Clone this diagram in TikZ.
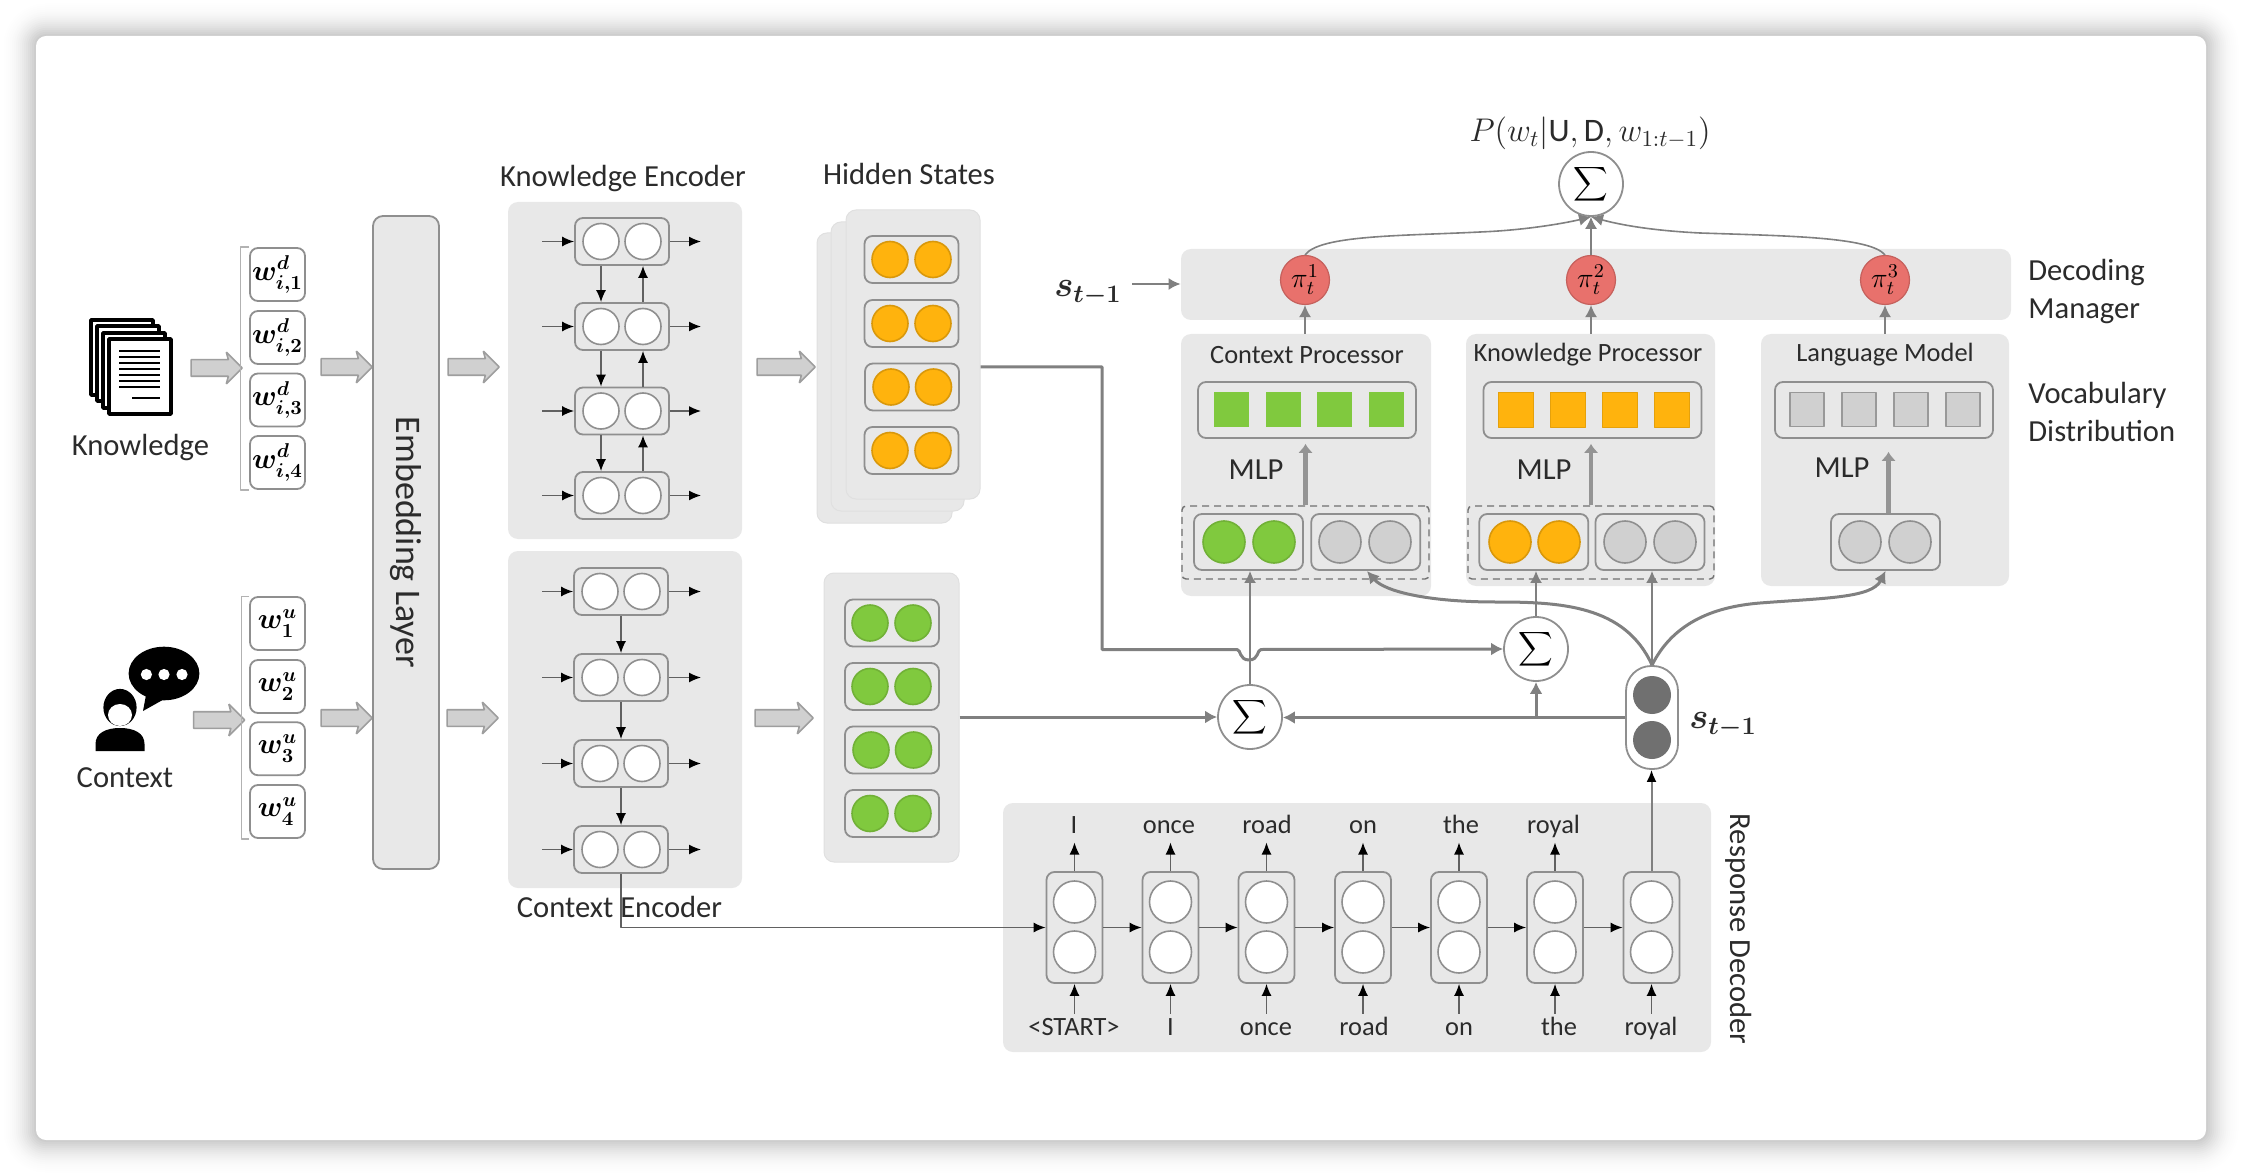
\documentclass[tikz,border=0pt]{standalone}
\usepackage{fix-cm}
\usepackage{amsmath}
\usepackage{fontspec}
\setmainfont{Carlito}
\usetikzlibrary{arrows.meta,shapes.arrows}
\definecolor{panelgray}{HTML}{E8E8E8}
\definecolor{edgegray}{HTML}{8F8F8F}
\definecolor{softgray}{HTML}{D0D0D0}
\definecolor{darkgray}{HTML}{707070}
\definecolor{inkgray}{HTML}{2B2B2B}
\definecolor{leafgreen}{HTML}{80C93E}
\definecolor{amber}{HTML}{FFB30D}
\definecolor{rosered}{HTML}{E8716C}
\tikzset{
  capt/.style={text=inkgray,inner sep=0pt,font=\fontsize{15.3}{18}\selectfont},
  smallcapt/.style={text=inkgray,inner sep=0pt,font=\fontsize{13.2}{16}\selectfont},
  wordnode/.style={text=inkgray,inner sep=0pt,outer sep=2pt,text height=9pt,text depth=2.5pt,font=\fontsize{13.2}{16}\selectfont},
  panel/.style={rectangle,rounded corners=5pt,fill=panelgray,inner sep=0pt},
  hiddenpanel/.style={panel,draw=black!12,line width=.5pt},
  pill/.style={rectangle,rounded corners=4pt,draw=edgegray,line width=.9pt,inner sep=0pt},
  wordbox/.style={pill,fill=white,minimum width=27.5pt,minimum height=26.5pt,font=\fontsize{14.4}{18}\selectfont},
  cellh/.style={pill,minimum width=47pt,minimum height=23.5pt},
  celldec/.style={pill,minimum width=28pt,minimum height=55.5pt},
  cellsm/.style={pill,minimum width=54.5pt,minimum height=28pt},
  cellvocab/.style={pill,minimum width=109pt,minimum height=28pt},
  unit/.style={circle,draw=edgegray,line width=.8pt,fill=white,minimum size=18pt,inner sep=0pt},
  unitdec/.style={unit,minimum size=21pt},
  hotamber/.style={unit,fill=amber,draw=amber!85!black},
  hotgreen/.style={unit,fill=leafgreen,draw=leafgreen!88!black},
  softamber/.style={hotamber,minimum size=21pt},
  softgreen/.style={hotgreen,minimum size=21pt},
  softunit/.style={unit,fill=softgray,minimum size=21pt},
  darkunit/.style={circle,fill=darkgray,minimum size=19pt,inner sep=0pt},
  barg/.style={rectangle,fill=leafgreen,minimum size=17.5pt,inner sep=0pt},
  baro/.style={rectangle,fill=amber,draw=amber!90!black,line width=.4pt,minimum size=17.5pt,inner sep=0pt},
  bars/.style={rectangle,fill=softgray,draw=black!40,line width=.7pt,minimum size=17pt,inner sep=0pt},
  dashbox/.style={rectangle,rounded corners=2pt,draw=darkgray,line width=.7pt,dash pattern=on 3.5pt off 2.5pt,minimum height=36.5pt,inner sep=0pt},
  sumnode/.style={circle,draw=edgegray,line width=.9pt,fill=white,minimum size=32pt,inner sep=0pt,font=\fontsize{13}{15}\selectfont},
  pinode/.style={circle,draw=rosered!85!black,line width=.6pt,fill=rosered,minimum size=24.5pt,inner sep=0pt,font=\fontsize{14}{16}\selectfont},
  blockarrow/.style={single arrow,draw=black!38,fill=softgray,line width=.8pt,minimum height=25.5pt,single arrow head extend=3.75pt,single arrow head indent=1pt,inner xsep=0pt,inner ysep=3.75pt},
  encline/.style={draw=black!62,line width=.7pt,>={Latex[black,length=6pt,width=5pt]}},
  gline/.style={draw=black!50,line width=1.5pt,>={Latex[length=6pt,width=6.5pt]}},
  gthin/.style={draw=black!50,line width=1pt,>={Latex[length=6pt,width=6pt]}},
  mlpline/.style={draw=black!42,line width=2.4pt,shorten >=2.5pt,>={Latex[length=4.5pt,width=7.5pt]}},
  brace/.style={draw=black!30,line width=.6pt},
  page/.style={draw=black,line width=2pt,fill=white},
}
\begin{document}
\begin{tikzpicture}[x=.5pt,y=-.5pt,line join=bevel]
%%
\useasboundingbox [fill=white] (0,0) rectangle (2242,1176);
\foreach \gap in {34,32,...,0} {
  \pgfmathsetmacro{\sdw}{22*(1-\gap/36)*(1-\gap/36)}
  \pgfmathsetmacro{\rad}{5+\gap/2}
  \fill [black!\sdw,rounded corners=\rad pt] (36-\gap,36-\gap) rectangle (2206+\gap,1140+\gap);
}
\fill [white,rounded corners=5pt] (36,36) rectangle (2206,1140);
%
% documents icon
\draw [page] (91,320) rectangle (152.5,395);
\draw [page] (97,326.5) rectangle (158.5,401.5);
\draw [page] (103,333) rectangle (165,408);
\draw [page] (109,339.5) rectangle (171,414);
\draw [black,line width=1pt] (119,351) -- (160,351) (119,357) -- (160,357) (119,363) -- (160,363) (119,369) -- (160,369) (119,375) -- (160,375) (119,381) -- (160,381) (119,387.5) -- (160,387.5) (132,398) -- (160,398);
% person icon
\fill [black] (164,673.5) ellipse [x radius=17.7pt,y radius=13.4pt];
\fill [black] (146,695) -- (143,711) -- (168,697) -- cycle;
\fill [white] (146.4,674.5) circle [radius=2.8pt] (164,674.5) circle [radius=2.8pt] (182,674.5) circle [radius=2.8pt];
\fill [black] (120,707.5) ellipse [x radius=8.3pt,y radius=9.3pt];
\fill [white] (120,715) ellipse [x radius=6pt,y radius=5.5pt];
\fill [black] (95.5,751) -- (95.5,744) .. controls (95.5,733) and (106,728) .. (120,728) .. controls (134,728) and (144.5,733) .. (144.5,744) -- (144.5,751) -- cycle;
%
\node (knowledge) at (140.5,448) [capt] {Knowledge};
\node (context) at (125,778) [capt] {Context};
\node (arrk1) at (212.5,368) [blockarrow] {};
\node (arrk2) at (342.5,367) [blockarrow] {};
\node (arrk3) at (469.5,367) [blockarrow] {};
\node (arrk4) at (782,367) [blockarrow,minimum height=29pt] {};
\node (arrc1) at (215,720) [blockarrow] {};
\node (arrc2) at (342.5,718) [blockarrow] {};
\node (arrc3) at (468.5,718) [blockarrow] {};
\node (arrc4) at (780,718) [blockarrow,minimum height=29pt] {};
%
\node (wd1) at (277.5,274.5) [wordbox] {$\boldsymbol{w_{i,1}^{d}}$};
\node (wd2) at (277.5,337.5) [wordbox] {$\boldsymbol{w_{i,2}^{d}}$};
\node (wd3) at (277.5,400) [wordbox] {$\boldsymbol{w_{i,3}^{d}}$};
\node (wd4) at (277.5,462.5) [wordbox] {$\boldsymbol{w_{i,4}^{d}}$};
\node (wu1) at (277.5,623.5) [wordbox] {$\boldsymbol{w_{1}^{u}}$};
\node (wu2) at (277.5,686.5) [wordbox] {$\boldsymbol{w_{2}^{u}}$};
\node (wu3) at (277.5,748.75) [wordbox] {$\boldsymbol{w_{3}^{u}}$};
\node (wu4) at (277.5,811.5) [wordbox] {$\boldsymbol{w_{4}^{u}}$};
\draw [brace] (wd1.north west) -- ++(-9,0) |- (wd4.south west);
\draw [brace] (wu1.north west) -- ++(-8,0) |- (wu4.south west);
%
\node (embed) at (406,542.5) [panel,draw=edgegray,line width=.9pt,rotate=-90,minimum width=326.5pt,minimum height=33pt,text=inkgray,font=\fontsize{18}{20}\selectfont] {Embedding Layer};
%
% knowledge encoder
\node (kpanel) at (625,370.5) [panel,minimum width=117pt,minimum height=168.5pt] {};
\node (ktitle) at (623,179) [capt] {Knowledge Encoder};
\node (kcell1) at (622,241.5) [cellh] {};
\node (kcell2) at (622,326.5) [cellh] {};
\node (kcell3) at (622,411) [cellh] {};
\node (kcell4) at (622,495.5) [cellh] {};
\node (kcell1a) at (601,241.5) [unit] {};
\node (kcell1b) at (643,241.5) [unit] {};
\node (kcell2a) at (601,326.5) [unit] {};
\node (kcell2b) at (643,326.5) [unit] {};
\node (kcell3a) at (601,411) [unit] {};
\node (kcell3b) at (643,411) [unit] {};
\node (kcell4a) at (601,495.5) [unit] {};
\node (kcell4b) at (643,495.5) [unit] {};
\coordinate (kleft) at (542,0);
\coordinate (kright) at (701,0);
% context encoder
\node (cpanel) at (625,719.5) [panel,minimum width=117pt,minimum height=168.5pt] {};
\node (ctitle) at (619.5,907) [capt] {Context Encoder};
\node (ccell1) at (621,591.5) [cellh] {};
\node (ccell2) at (621,677.5) [cellh] {};
\node (ccell3) at (621,763.5) [cellh] {};
\node (ccell4) at (621,849.5) [cellh] {};
\node (ccell1a) at (600,591.5) [unit] {};
\node (ccell1b) at (642,591.5) [unit] {};
\node (ccell2a) at (600,677.5) [unit] {};
\node (ccell2b) at (642,677.5) [unit] {};
\node (ccell3a) at (600,763.5) [unit] {};
\node (ccell3b) at (642,763.5) [unit] {};
\node (ccell4a) at (600,849.5) [unit] {};
\node (ccell4b) at (642,849.5) [unit] {};
%
% hidden states
\node (htitle) at (909,174) [capt] {Hidden States};
\node (hback) at (884.5,378) [hiddenpanel,minimum width=67.5pt,minimum height=145pt] {};
\node (hmid) at (897.5,366.5) [hiddenpanel,minimum width=66.5pt,minimum height=144.5pt] {};
\node (hfront) at (913,354.5) [hiddenpanel,minimum width=67pt,minimum height=144.5pt] {};
\node (hk1) at (911.5,259.5) [cellh] {};
\node (hk2) at (911.5,323.5) [cellh] {};
\node (hk3) at (912,387) [cellh] {};
\node (hk4) at (911.5,450.5) [cellh] {};
\node (hk1a) at (890,259.5) [hotamber] {};
\node (hk1b) at (933,259.5) [hotamber] {};
\node (hk2a) at (890,323.5) [hotamber] {};
\node (hk2b) at (933,323.5) [hotamber] {};
\node (hk3a) at (891,387) [hotamber] {};
\node (hk3b) at (933.5,387) [hotamber] {};
\node (hk4a) at (890,450.5) [hotamber] {};
\node (hk4b) at (933,450.5) [hotamber] {};
\node (hcpanel) at (891.5,717.5) [hiddenpanel,minimum width=67.5pt,minimum height=144.5pt] {};
\node (hc1) at (892,623) [cellh] {};
\node (hc2) at (892,686.5) [cellh] {};
\node (hc3) at (892,750) [cellh] {};
\node (hc4) at (892,813.5) [cellh] {};
\node (hc1a) at (870,623) [hotgreen] {};
\node (hc1b) at (913,623) [hotgreen] {};
\node (hc2a) at (870,686.5) [hotgreen] {};
\node (hc2b) at (913,686.5) [hotgreen] {};
\node (hc3a) at (871,750) [hotgreen] {};
\node (hc3b) at (913.5,750) [hotgreen] {};
\node (hc4a) at (870,813.5) [hotgreen] {};
\node (hc4b) at (913,813.5) [hotgreen] {};
%
% decoding manager and processors
\node (manager) at (1596,284.5) [panel,minimum width=415pt,minimum height=35.5pt] {};
\node (cproc) at (1306,465) [panel,minimum width=125pt,minimum height=131pt] {};
\node (kproc) at (1590.5,460) [panel,minimum width=124.5pt,minimum height=126pt] {};
\node (lproc) at (1885,460) [panel,minimum width=124pt,minimum height=126pt] {};
\node (cptitle) at (1307,355) [smallcapt] {Context Processor};
\node (kptitle) at (1588,355) [smallcapt] {Knowledge Processor};
\node (lptitle) at (1885,355) [smallcapt] {Language Model};
\node (pi1) at (1305,280) [pinode] {$\pi_{t}^{1}$};
\node (pi2) at (1591,280) [pinode] {$\pi_{t}^{2}$};
\node (pi3) at (1885,280) [pinode] {$\pi_{t}^{3}$};
\node (sigmat) at (1591,184) [sumnode] {$\displaystyle\sum$};
\node (pout) at (1590,133) [inner sep=0pt,text=inkgray,font=\fontsize{16.4}{18}\selectfont] {$P(w_{t}|\mathrm{U},\mathrm{D},w_{1:t-1})$};
\node (stin) at (1088,293) [inner sep=0pt,text=inkgray,font=\fontsize{18}{20}\selectfont] {$\boldsymbol{s_{t-1}}$};
\coordinate (stout) at (1132,284);
\node (dmtext1) at (2028,273) [capt,anchor=west] {Decoding};
\node (dmtext2) at (2028,311) [capt,anchor=west] {Manager};
\node (vdtext1) at (2028,395) [capt,anchor=west] {Vocabulary};
\node (vdtext2) at (2028,431) [capt,anchor=west] {Distribution};
%
\node (cvocab) at (1307,410) [cellvocab] {};
\node (kvocab) at (1592.5,410) [cellvocab] {};
\node (lvocab) at (1884,410) [cellvocab] {};
\node (cv1) at (1231,409.5) [barg] {};
\node (cv2) at (1283,409.5) [barg] {};
\node (cv3) at (1334.5,409.5) [barg] {};
\node (cv4) at (1386,409.5) [barg] {};
\node (kv1) at (1516,409.5) [baro] {};
\node (kv2) at (1568,409.5) [baro] {};
\node (kv3) at (1619.5,409.5) [baro] {};
\node (kv4) at (1671.5,409.5) [baro] {};
\node (lv1) at (1807,409.5) [bars] {};
\node (lv2) at (1859,409.5) [bars] {};
\node (lv3) at (1911,409.5) [bars] {};
\node (lv4) at (1963,409.5) [bars] {};
\node (cmlp) at (1256,470) [capt] {MLP};
\node (kmlp) at (1544,470) [capt] {MLP};
\node (lmlp) at (1842,468) [capt] {MLP};
%
\node (cdash) at (1305.5,542.5) [dashbox,minimum width=123.5pt] {};
\node (kdash) at (1591,542.5) [dashbox,minimum width=123pt] {};
\node (cgreen) at (1248.5,542) [cellsm] {};
\node (cgrey) at (1365.75,542) [cellsm] {};
\node (kamber) at (1533.75,542) [cellsm] {};
\node (kgrey) at (1650,542) [cellsm] {};
\node (lgrey) at (1885.5,542) [cellsm] {};
\node (cgreena) at (1224,542) [softgreen] {};
\node (cgreenb) at (1274,542) [softgreen] {};
\node (cgreya) at (1340,542) [softunit] {};
\node (cgreyb) at (1390,542) [softunit] {};
\node (kambera) at (1510,542) [softamber] {};
\node (kamberb) at (1559,542) [softamber] {};
\node (kgreya) at (1625,542) [softunit] {};
\node (kgreyb) at (1675,542) [softunit] {};
\node (lgreya) at (1860,542) [softunit] {};
\node (lgreyb) at (1910,542) [softunit] {};
%
% attention sums and decoder state
\node (sigmaa) at (1250,717) [sumnode] {$\displaystyle\sum$};
\node (sigmab) at (1536,649) [sumnode] {$\displaystyle\sum$};
\node (spill) at (1652,717.5) [pill,fill=white,rounded corners=12.5pt,minimum width=26pt,minimum height=51.5pt] {};
\node (spilla) at (1652,695) [darkunit] {};
\node (spillb) at (1652,740) [darkunit] {};
\node (stext) at (1723,725) [inner sep=0pt,text=inkgray,font=\fontsize{18}{20}\selectfont] {$\boldsymbol{s_{t-1}}$};
%
% response decoder
\node (rpanel) at (1357,927.5) [panel,minimum width=354pt,minimum height=124.5pt] {};
\node (rtitle) at (1739,929) [capt,rotate=-90] {Response Decoder};
\node (dec1) at (1074.5,927.5) [celldec] {};
\node (dec2) at (1170.5,927.5) [celldec] {};
\node (dec3) at (1266.5,927.5) [celldec] {};
\node (dec4) at (1363,927.5) [celldec] {};
\node (dec5) at (1459,927.5) [celldec] {};
\node (dec6) at (1555,927.5) [celldec] {};
\node (dec7) at (1651.5,927.5) [celldec] {};
\node (dec1a) at (1074.5,902) [unitdec] {};
\node (dec1b) at (1074.5,952) [unitdec] {};
\node (dec2a) at (1170.5,902) [unitdec] {};
\node (dec2b) at (1170.5,952) [unitdec] {};
\node (dec3a) at (1266.5,902) [unitdec] {};
\node (dec3b) at (1266.5,952) [unitdec] {};
\node (dec4a) at (1363,902) [unitdec] {};
\node (dec4b) at (1363,952) [unitdec] {};
\node (dec5a) at (1459,902) [unitdec] {};
\node (dec5b) at (1459,952) [unitdec] {};
\node (dec6a) at (1555,902) [unitdec] {};
\node (dec6b) at (1555,952) [unitdec] {};
\node (dec7a) at (1651.5,902) [unitdec] {};
\node (dec7b) at (1651.5,952) [unitdec] {};
\node (out1) at (1074,827) [wordnode] {I};
\node (out2) at (1169,827) [wordnode] {once};
\node (out3) at (1267,827) [wordnode] {road};
\node (out4) at (1363,827) [wordnode] {on};
\node (out5) at (1461,827) [wordnode] {the};
\node (out6) at (1553.5,827) [wordnode] {royal};
\node (inp1) at (1074,1029) [wordnode] {<START>};
\node (inp2) at (1170.5,1029) [wordnode] {I};
\node (inp3) at (1266,1029) [wordnode] {once};
\node (inp4) at (1364,1029) [wordnode] {road};
\node (inp5) at (1459,1029) [wordnode] {on};
\node (inp6) at (1559,1029) [wordnode] {the};
\node (inp7) at (1651,1029) [wordnode] {royal};
%
% encoder arrows
\draw [encline,->] (kleft |- kcell1) -- (kcell1.west);
\draw [encline,->] (kleft |- kcell2) -- (kcell2.west);
\draw [encline,->] (kleft |- kcell3) -- (kcell3.west);
\draw [encline,->] (kleft |- kcell4) -- (kcell4.west);
\draw [encline,->] (kcell1.east) -- (kright |- kcell1);
\draw [encline,->] (kcell2.east) -- (kright |- kcell2);
\draw [encline,->] (kcell3.east) -- (kright |- kcell3);
\draw [encline,->] (kcell4.east) -- (kright |- kcell4);
\draw [encline,->] (kcell1a |- kcell1.south) -- (kcell2a |- kcell2.north);
\draw [encline,->] (kcell2a |- kcell2.south) -- (kcell3a |- kcell3.north);
\draw [encline,->] (kcell3a |- kcell3.south) -- (kcell4a |- kcell4.north);
\draw [encline,->] (kcell2b |- kcell2.north) -- (kcell1b |- kcell1.south);
\draw [encline,->] (kcell3b |- kcell3.north) -- (kcell2b |- kcell2.south);
\draw [encline,->] (kcell4b |- kcell4.north) -- (kcell3b |- kcell3.south);
\draw [encline,->] (kleft |- ccell1) -- (ccell1.west);
\draw [encline,->] (kleft |- ccell2) -- (ccell2.west);
\draw [encline,->] (kleft |- ccell3) -- (ccell3.west);
\draw [encline,->] (kleft |- ccell4) -- (ccell4.west);
\draw [encline,->] (ccell1.east) -- (kright |- ccell1);
\draw [encline,->] (ccell2.east) -- (kright |- ccell2);
\draw [encline,->] (ccell3.east) -- (kright |- ccell3);
\draw [encline,->] (ccell4.east) -- (kright |- ccell4);
\draw [encline,->] (ccell1.south) -- (ccell2.north);
\draw [encline,->] (ccell2.south) -- (ccell3.north);
\draw [encline,->] (ccell3.south) -- (ccell4.north);
\draw [encline,->] (ccell4.south) |- (dec1.west);
% decoder arrows
\draw [encline,->] (dec1.east) -- (dec2.west);
\draw [encline,->] (dec2.east) -- (dec3.west);
\draw [encline,->] (dec3.east) -- (dec4.west);
\draw [encline,->] (dec4.east) -- (dec5.west);
\draw [encline,->] (dec5.east) -- (dec6.west);
\draw [encline,->] (dec6.east) -- (dec7.west);
\draw [encline,->] (dec1.north) -- (dec1.north |- out1.south);
\draw [encline,->] (dec2.north) -- (dec2.north |- out2.south);
\draw [encline,->] (dec3.north) -- (dec3.north |- out3.south);
\draw [encline,->] (dec4.north) -- (dec4.north |- out4.south);
\draw [encline,->] (dec5.north) -- (dec5.north |- out5.south);
\draw [encline,->] (dec6.north) -- (dec6.north |- out6.south);
\draw [encline,->] (dec1.south |- inp1.north) -- (dec1.south);
\draw [encline,->] (dec2.south |- inp2.north) -- (dec2.south);
\draw [encline,->] (dec3.south |- inp3.north) -- (dec3.south);
\draw [encline,->] (dec4.south |- inp4.north) -- (dec4.south);
\draw [encline,->] (dec5.south |- inp5.north) -- (dec5.south);
\draw [encline,->] (dec6.south |- inp6.north) -- (dec6.south);
\draw [encline,->] (dec7.south |- inp7.north) -- (dec7.south);
\draw [encline,draw=black!50,line width=1pt,->] (dec7.north) -- (dec7.north |- spill.south);
%
% attention wiring
\draw [gline,->] (hfront.east |- arrk4) -- (1102,367) -- (1102,649.5) -- (1237,649.5) .. controls (1241,649.5) and (1239,660) .. (1249,660) .. controls (1259,660) and (1257,649.5) .. (1261,649.5) -- (sigmab.west);
\draw [gline,->] (hcpanel.east |- sigmaa) -- (sigmaa.west);
\draw [gline,->] (spill.west) -- (spill.west -| sigmaa.east);
\draw [gline,->] (sigmab.south |- spill.west) -- (sigmab.south);
\draw [gthin,->] (sigmaa.north) -- (sigmaa.north |- cgreen.south);
\draw [gthin,->] (sigmab.north) -- (sigmab.north |- kamber.south);
\draw [gthin,->] (spill.north) -- (spill.north |- kgrey.south);
\draw [gline,->] (spill.north) .. controls (1625,605) and (1560,602) .. (1496,602) .. controls (1430,602) and (1385,592) .. (1367,571);
\draw [gline,->] (spill.north) .. controls (1672,625) and (1710,607) .. (1760,603) .. controls (1825,598) and (1872,598) .. (lgrey.south);
%
% mixture arrows
\draw [mlpline,->] (cdash.north) -- (cdash.north |- cvocab.south);
\draw [mlpline,->] (kdash.north) -- (kdash.north |- kvocab.south);
\draw [mlpline,->] ([xshift=1.5pt]lgrey.north) -- ([xshift=1.5pt,yshift=-4pt]lgrey.north |- lvocab.south);
\draw [gthin,line width=.8pt,->] (pi1 |- cproc.north) -- (pi1.south);
\draw [gthin,line width=.8pt,->] (pi2 |- kproc.north) -- (pi2.south);
\draw [gthin,line width=.8pt,->] (pi3 |- lproc.north) -- (pi3.south);
\draw [gthin,line width=.6pt,->] (pi2.north) -- (sigmat.south);
\draw [gthin,line width=.8pt,->] (pi1.north) .. controls (1320,235) and (1400,236) .. (1480,232) .. controls (1530,230) and (1570,222) .. (sigmat.south);
\draw [gthin,line width=.8pt,->] (pi3.north) .. controls (1870,237) and (1790,236) .. (1700,233) .. controls (1640,230) and (1610,222) .. (sigmat.south);
\draw [gthin,->] (stout) -- (manager.west |- stout);
%
\end{tikzpicture}
\end{document}
